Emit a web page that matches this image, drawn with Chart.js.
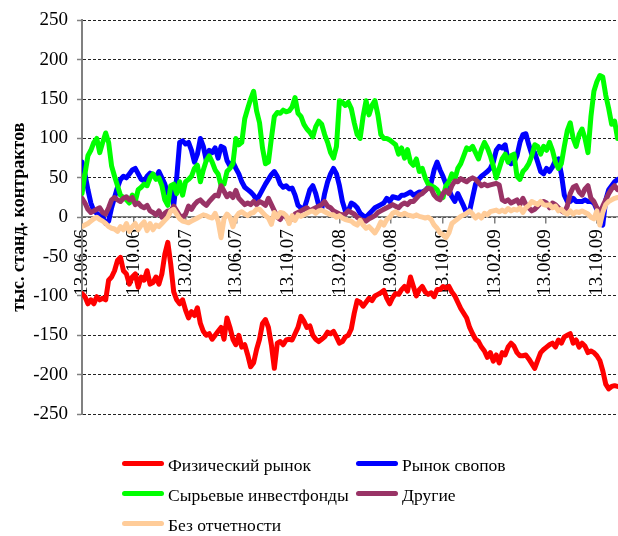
<!DOCTYPE html>
<html><head><meta charset="utf-8">
<script src="https://cdn.jsdelivr.net/npm/chart.js@4.4.1/dist/chart.umd.min.js"></script>
<style>
html,body{margin:0;padding:0;background:#fff;}
#wrap{position:relative;width:618px;height:536px;overflow:hidden;}
canvas{position:absolute;left:0;top:0;}
.lt{position:absolute;font-family:"Liberation Serif","Times New Roman",serif;font-size:17.5px;line-height:20px;color:#000;white-space:nowrap;}
.sw{position:absolute;height:5px;border-radius:3px;width:42px;}
</style></head>
<body><div id="wrap"><canvas id="c" width="618" height="536"></canvas><div id="legend"></div></div>
<script>
const startDate = '13.06.06';
const tickLabels = ['13.06.06','13.10.06','13.02.07','13.06.07','13.10.07','13.02.08','13.06.08','13.10.08','13.02.09','13.06.09','13.10.09'];
const seriesNames = ['Физический рынок','Рынок свопов','Сырьевые инвестфонды','Другие','Без отчетности'];
const seriesColors = ['#FF0000','#0000FF','#00FF00','#993366','#FFCC99'];
const axisTitle = 'тыс. станд. контрактов';

const physical = [
-97,-101,-110,-105,-110,-101,-105,-103,-105,-80,
-76,-68,-55,-51,-68,-72,-85,-76,-72,-89,
-76,-80,-68,-85,-83,-76,-85,-72,-47,-32,
-60,-95,-105,-110,-105,-118,-128,-120,-125,-115,
-135,-145,-150,-148,-155,-150,-145,-140,-155,-128,
-140,-155,-162,-150,-165,-162,-175,-190,-185,-168,
-155,-135,-130,-140,-162,-192,-160,-158,-162,-156,
-155,-156,-148,-140,-126,-132,-140,-138,-150,-155,
-158,-155,-152,-146,-148,-145,-152,-160,-158,-152,
-150,-142,-122,-106,-108,-113,-108,-103,-106,-100,
-98,-96,-93,-103,-110,-102,-97,-98,-92,-88,
-94,-76,-88,-100,-92,-88,-95,-98,-96,-101,
-92,-92,-88,-90,-88,-95,-100,-108,-116,-122,
-128,-140,-148,-155,-158,-165,-170,-178,-172,-183,
-175,-185,-172,-175,-165,-160,-164,-172,-176,-176,
-175,-180,-186,-192,-182,-172,-168,-165,-162,-160,
-165,-156,-160,-152,-150,-148,-160,-156,-165,-160,
-164,-172,-170,-172,-176,-182,-195,-212,-218,-215,
-214,-215];

const swaps = [
70,55,35,18,8,5,2,0,-8,-5,
12,25,38,48,52,50,55,60,62,55,
48,46,52,56,54,50,58,50,42,30,
35,15,50,95,97,93,95,85,70,80,
100,90,72,85,82,88,75,90,88,72,
65,70,62,55,45,38,35,32,28,22,
28,35,42,48,54,58,52,42,38,40,
36,37,28,15,12,10,22,35,40,30,
15,10,30,45,55,62,55,40,20,8,
8,18,16,12,5,2,0,4,8,12,
14,16,18,24,20,26,25,24,28,28,
30,32,28,30,32,32,34,38,44,60,
70,60,52,42,35,26,20,30,22,14,
5,8,25,42,48,52,55,58,62,70,
85,90,88,92,72,68,70,78,95,105,
106,92,80,82,70,58,55,62,58,64,
72,74,55,28,20,20,24,20,20,20,
22,20,20,18,10,0,-10,22,35,40,
45,48];

const indexFunds = [
30,55,78,85,95,100,82,95,107,95,
65,52,40,28,25,22,18,28,20,35,
38,42,40,50,55,48,50,40,22,15,
40,42,30,45,28,45,48,52,62,66,
45,60,72,78,70,60,55,40,42,58,
62,68,100,92,95,125,138,150,160,135,
120,88,68,70,100,128,133,132,136,134,
135,140,152,132,128,118,112,108,102,115,
122,118,105,95,82,75,90,148,146,142,
146,138,120,105,100,128,148,130,142,148,
130,105,100,100,98,95,92,80,88,75,
86,70,66,74,58,62,50,42,40,38,
35,28,25,40,45,55,48,62,68,78,
88,86,90,82,74,86,95,88,78,65,
50,62,74,80,70,78,80,52,48,58,
62,68,78,92,90,80,90,85,95,85,
70,62,68,90,110,120,100,90,105,112,
100,82,128,160,172,180,178,155,138,118,
122,100];

const others = [
24,18,10,6,8,10,12,6,4,12,
22,25,22,20,24,26,22,25,16,18,
14,12,15,8,6,3,8,0,5,8,
8,14,8,2,0,4,14,10,16,20,
22,18,15,20,24,28,27,40,33,26,
30,25,34,24,20,16,18,16,20,16,
20,18,15,24,16,8,0,-3,4,0,
-5,-2,4,6,8,10,12,8,10,12,
14,16,20,14,12,8,6,4,3,4,
8,6,4,0,-3,-4,-5,-2,0,2,
6,8,10,12,14,16,14,12,16,18,
16,20,20,24,28,30,34,37,36,28,
24,22,30,34,30,40,46,45,49,47,
45,48,50,48,44,40,42,40,41,42,
43,41,22,20,22,18,20,22,16,24,
16,12,8,10,14,18,20,18,12,18,
16,12,8,6,14,30,38,40,32,28,
36,40,24,20,12,5,14,22,30,36,
40,35];

const nonReportable = [
-12,-10,-8,-5,-2,0,-3,-5,-8,-12,
-14,-15,-18,-12,-16,-8,-18,-12,-8,-16,
-10,-6,-17,-8,-16,-10,-12,-8,-4,0,
8,10,4,-2,-5,-6,-7,-5,-3,-1,
1,3,2,0,-1,5,-5,-26,-2,4,
0,-12,0,5,7,4,2,5,6,10,
10,6,2,-1,-9,6,0,6,5,2,
-8,2,-4,3,1,3,5,7,8,5,
8,9,7,5,3,3,0,2,-1,-3,
-4,-5,-8,-10,-4,-10,-14,-12,-16,-20,
-14,-6,-10,-3,0,5,7,4,3,5,
3,2,1,3,1,0,-1,0,-3,-10,
-14,-20,-22,-26,-20,-8,-5,-2,1,3,
5,8,4,-1,3,-1,5,3,7,8,
9,7,9,7,11,8,10,9,12,6,
12,15,20,18,16,20,16,15,16,12,
14,8,10,6,4,8,4,7,6,8,
6,4,0,-2,8,-10,6,16,20,22,
24,25];

const allSeries = [physical, swaps, indexFunds, others, nonReportable];

function parseDate(s){ const p=s.split('.'); return Date.UTC(2000+Number(p[2]), Number(p[1])-1, Number(p[0])); }
const t0 = parseDate(startDate);
const dayOf = s => Math.round((parseDate(s)-t0)/86400000);
const tickDays = tickLabels.map(dayOf);
const xMax = 1268;

const datasets = allSeries.map((arr, k) => ({
  label: seriesNames[k],
  data: arr.map((v, i) => ({x: i*7, y: v})),
  borderColor: seriesColors[k],
  backgroundColor: seriesColors[k],
  borderWidth: 5,
  pointRadius: 0,
  tension: 0,
  fill: false,
  order: allSeries.length - k
}));

const serif = '"Liberation Serif","Times New Roman",serif';

new Chart(document.getElementById('c'), {
  type: 'line',
  data: {datasets},
  options: {
    responsive: false,
    animation: false,
    layout: {padding: {top: 17, left: 0, right: 0, bottom: 122}},
    plugins: {legend: {display: false}, tooltip: {enabled: false}},
    elements: {line: {borderCapStyle: 'round', borderJoinStyle: 'round'}},
    scales: {
      x: {
        type: 'linear', position: {y: 0}, min: 0, max: xMax,
        grid: {drawOnChartArea: false, drawTicks: true, tickLength: 6, color: '#808080', lineWidth: 1.5},
        border: {display: true, color: '#808080', width: 1.5},
        ticks: {autoSkip: false, maxRotation: 90, minRotation: 90, padding: 6, color: '#000',
                font: {family: serif, size: 19}, callback: (v, i) => tickLabels[i]},
        afterBuildTicks: s => { s.ticks = tickDays.map(v => ({value: v})); },
        afterFit: s => { s.paddingLeft = 0; s.paddingRight = 0; }
      },
      y: {
        min: -250, max: 250,
        ticks: {stepSize: 50, padding: 9, color: '#000', font: {family: serif, size: 19}},
        grid: {color: '#222', lineWidth: 1, tickLength: 5, tickColor: '#808080', tickWidth: 1.5},
        border: {display: true, color: '#808080', width: 2, dash: [3, 2]},
        title: {display: true, text: axisTitle, color: '#000',
                font: {family: serif, size: 18, weight: 'bold'}, padding: {top: 9, bottom: 0}},
        afterFit: s => { s.width = 82; }
      }
    }
  }
});

// legend (two columns)
const legendPos = [[122, 455], [356, 455], [122, 485], [356, 485], [122, 515]];
const lg = document.getElementById('legend');
seriesNames.forEach((name, k) => {
  const [lx, ly] = legendPos[k];
  const sw = document.createElement('div');
  sw.className = 'sw';
  sw.style.left = lx + 'px';
  sw.style.top = (ly + 6) + 'px';
  sw.style.background = seriesColors[k];
  lg.appendChild(sw);
  const t = document.createElement('div');
  t.className = 'lt';
  t.style.left = (lx + 46) + 'px';
  t.style.top = ly + 'px';
  t.textContent = name;
  lg.appendChild(t);
});
</script>
</body></html>
